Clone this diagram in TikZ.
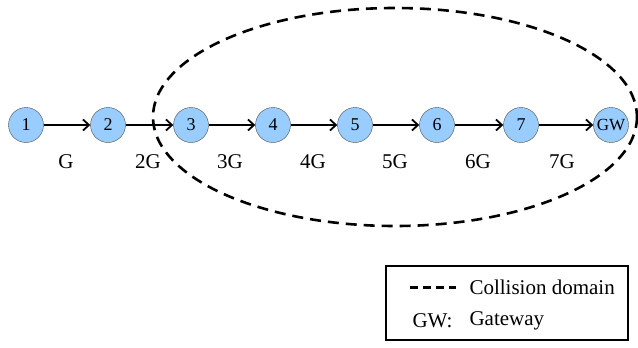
\documentclass[tikz,border=0pt]{standalone}
\usepackage{fontspec}
\setmainfont{Liberation Serif}
\usetikzlibrary{arrows.meta}
\begin{document}
\begin{tikzpicture}[x=1pt,y=-1pt,
  hop/.style={circle,draw=black!70,fill={rgb,255:red,153;green,204;blue,255},minimum size=35pt,inner sep=0pt,font=\fontsize{18}{18}\selectfont},
  link/.style={draw=black,line width=1.8pt,-{Straight Barb[length=6pt,width=11pt]}},
  lbl/.style={font=\fontsize{21}{21}\selectfont},
  coll/.style={draw=black,line width=2.6pt,dash pattern=on 11pt off 7pt}]
\useasboundingbox (0,0) rectangle (638,348);
\node[hop] (n1) at (26,125) {1};
\node[hop] (n2) at (108,125) {2};
\node[hop] (n3) at (191,125) {3};
\node[hop] (n4) at (273,125) {4};
\node[hop] (n5) at (355,125) {5};
\node[hop] (n6) at (437,125) {6};
\node[hop] (n7) at (521,125) {7};
\node[hop,font=\fontsize{17}{17}\selectfont] (gw) at (611,125) {GW};
\draw[link] (n1) -- (n2);
\draw[link] (n2) -- (n3);
\draw[link] (n3) -- (n4);
\draw[link] (n4) -- (n5);
\draw[link] (n5) -- (n6);
\draw[link] (n6) -- (n7);
\draw[link] (n7) -- (gw);
\node[lbl] (g1) at (66,162) {G};
\node[lbl] (g2) at (148,162) {2G};
\node[lbl] (g3) at (230,162) {3G};
\node[lbl] (g4) at (313,162) {4G};
\node[lbl] (g5) at (395,162) {5G};
\node[lbl] (g6) at (478,162) {6G};
\node[lbl] (g7) at (562,162) {7G};
\draw[coll] (395,117) ellipse [x radius=242, y radius=109];
\node[draw=black,line width=1.3pt,minimum width=242pt,minimum height=74pt,inner sep=0pt] (legend) at (507,303) {};
\coordinate (d1) at (410,287);
\coordinate (d2) at (456,287);
\draw[draw=black,line width=3pt,dash pattern=on 8pt off 5pt] (d1) -- (d2);
\node[lbl,anchor=west] (cd) at (466,287) {Collision domain};
\node[lbl,anchor=west] (gwl) at (409,321) {GW:};
\node[lbl,anchor=west] (gwt) at (466,321) {Gateway};
\end{tikzpicture}
\end{document}
